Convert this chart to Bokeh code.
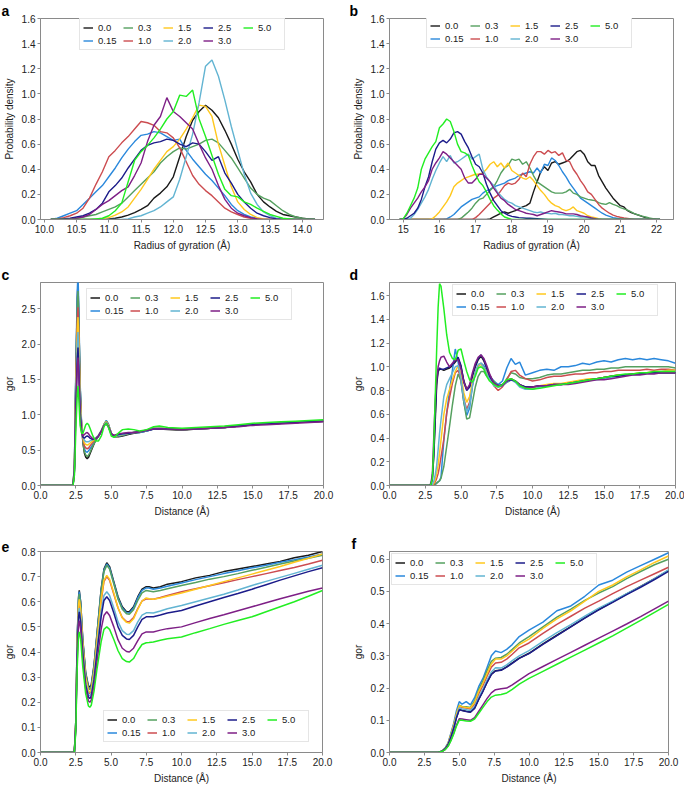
from bokeh.plotting import figure
from bokeh.layouts import column, row
from bokeh.models import (Legend, LegendItem, FixedTicker, NumeralTickFormatter,
                          Title, Range1d)
from bokeh.embed import file_html
from bokeh.resources import INLINE

SERIES = ["0.0", "0.15", "0.3", "1.0", "1.5", "2.0", "2.5", "3.0", "5.0"]
COLORS = ["#1a1a1a", "#2a88dc", "#55a05f", "#cc4c50", "#ffc81e",
          "#62b4d2", "#1c1c8a", "#7e1f86", "#22ee22"]

# ---------------- panel a : radius of gyration ----------------
A_X = [10.1, 10.2, 10.3, 10.4, 10.5, 10.6, 10.7, 10.8, 10.9, 11.0,
       11.1, 11.2, 11.3, 11.4, 11.5, 11.6, 11.7, 11.8, 11.9, 12.0,
       12.1, 12.2, 12.3, 12.4, 12.5, 12.6, 12.7, 12.8, 12.9, 13.0,
       13.1, 13.2, 13.3, 13.4, 13.5, 13.6, 13.7, 13.8, 13.9, 14.0,
       14.1, 14.2]
A_0_0 = [0, 0, 0, 0, 0, 0, 0, 0, 0, 0.005,
         0.01, 0.02, 0.035, 0.055, 0.08, 0.11, 0.17, 0.21, 0.26, 0.34,
         0.50, 0.66, 0.79, 0.86, 0.91, 0.87, 0.81, 0.71, 0.60, 0.48,
         0.38, 0.30, 0.20, 0.14, 0.10, 0.065, 0.04, 0.03, 0.02, 0.01,
         0.005, 0]
A_0_15 = [0, 0.01, 0.03, 0.05, 0.07, 0.12, 0.17, 0.22, 0.27, 0.34,
          0.41, 0.49, 0.56, 0.62, 0.67, 0.68, 0.70, 0.69, 0.66, 0.63,
          0.64, 0.55, 0.48, 0.42, 0.36, 0.31, 0.25, 0.19, 0.12, 0.07,
          0.04, 0.02, 0.01, 0, 0, 0, 0, 0, 0, 0,
          0, 0]
A_0_3 = [0, 0, 0, 0.005, 0.01, 0.02, 0.03, 0.04, 0.06, 0.08,
         0.10, 0.13, 0.18, 0.23, 0.28, 0.33, 0.38, 0.45, 0.50, 0.54,
         0.57, 0.56, 0.58, 0.60, 0.63, 0.64, 0.61, 0.55, 0.49, 0.41,
         0.33, 0.25, 0.20, 0.17, 0.15, 0.11, 0.07, 0.04, 0.02, 0.01,
         0, 0]
A_1_0 = [0, 0.005, 0.015, 0.03, 0.05, 0.09, 0.17, 0.28, 0.38, 0.50,
         0.55, 0.61, 0.66, 0.72, 0.78, 0.77, 0.75, 0.70, 0.69, 0.65,
         0.57, 0.46, 0.35, 0.28, 0.23, 0.19, 0.14, 0.09, 0.06, 0.04,
         0.02, 0.01, 0.005, 0, 0, 0, 0, 0, 0, 0,
         0, 0]
A_1_5 = [0, 0, 0, 0, 0, 0, 0, 0, 0.005, 0.015,
         0.035, 0.06, 0.10, 0.17, 0.24, 0.32, 0.40, 0.47, 0.54, 0.58,
         0.64, 0.72, 0.81, 0.91, 0.90, 0.82, 0.60, 0.43, 0.26, 0.14,
         0.08, 0.04, 0.015, 0.005, 0, 0, 0, 0, 0, 0,
         0, 0]
A_2_0 = [0, 0, 0, 0, 0, 0, 0, 0, 0, 0,
         0, 0, 0.005, 0.02, 0.03, 0.05, 0.07, 0.10, 0.14, 0.18,
         0.32, 0.50, 0.68, 0.93, 1.22, 1.27, 1.14, 0.95, 0.74, 0.55,
         0.36, 0.21, 0.12, 0.06, 0.03, 0.01, 0, 0, 0, 0,
         0, 0]
A_2_5 = [0, 0, 0.005, 0.01, 0.02, 0.03, 0.05, 0.08, 0.13, 0.22,
         0.27, 0.33, 0.41, 0.48, 0.55, 0.59, 0.61, 0.62, 0.64, 0.63,
         0.60, 0.58, 0.61, 0.60, 0.54, 0.47, 0.50, 0.37, 0.29, 0.20,
         0.14, 0.09, 0.05, 0.03, 0.015, 0.005, 0, 0, 0, 0,
         0, 0]
A_3_0 = [0, 0, 0, 0.005, 0.01, 0.02, 0.04, 0.08, 0.12, 0.15,
         0.19, 0.23, 0.26, 0.35, 0.45, 0.62, 0.75, 0.82, 0.97, 0.86,
         0.82, 0.77, 0.72, 0.60, 0.49, 0.40, 0.27, 0.16, 0.09, 0.05,
         0.03, 0.015, 0.005, 0, 0, 0, 0, 0, 0, 0,
         0, 0]
A_5_0 = [0, 0, 0, 0, 0, 0, 0, 0.005, 0.01, 0.03,
         0.07, 0.13, 0.30, 0.47, 0.54, 0.59, 0.65, 0.72, 0.80, 0.86,
         0.99, 0.98, 1.03, 0.80, 0.66, 0.51, 0.36, 0.24, 0.19, 0.18,
         0.14, 0.12, 0.09, 0.065, 0.04, 0.025, 0.01, 0.005, 0, 0,
         0, 0]

# ---------------- panel b : radius of gyration ----------------
B_X = [14.9,
       15.0, 15.1, 15.2, 15.3, 15.4, 15.5, 15.6, 15.7, 15.8, 15.9,
       16.0, 16.1, 16.2, 16.3, 16.4, 16.5, 16.6, 16.7, 16.8, 16.9,
       17.0, 17.1, 17.2, 17.3, 17.4, 17.5, 17.6, 17.7, 17.8, 17.9,
       18.0, 18.1, 18.2, 18.3, 18.4, 18.5, 18.6, 18.7, 18.8, 18.9,
       19.0, 19.1, 19.2, 19.3, 19.4, 19.5, 19.6, 19.7, 19.8, 19.9,
       20.0, 20.1, 20.2, 20.3, 20.4, 20.5, 20.6, 20.7, 20.8, 20.9,
       21.0, 21.1, 21.2, 21.3, 21.4, 21.5, 21.6, 21.7, 21.8, 21.9,
       22.0, 22.1]
B_0_0 = [0,
         0, 0, 0, 0, 0, 0, 0, 0, 0, 0,
         0, 0, 0, 0, 0, 0, 0, 0, 0, 0,
         0, 0, 0, 0, 0.005, 0.02, 0.035, 0.05, 0.06, 0.05,
         0.06, 0.07, 0.085, 0.10, 0.11, 0.13, 0.22, 0.30, 0.38, 0.42,
         0.39, 0.45, 0.46, 0.44, 0.45, 0.46, 0.48, 0.51, 0.54, 0.55,
         0.52, 0.46, 0.43, 0.43, 0.35, 0.30, 0.25, 0.21, 0.17, 0.14,
         0.11, 0.10, 0.07, 0.055, 0.045, 0.035, 0.025, 0.015, 0.009, 0.004,
         0, 0]
B_0_15 = [0,
          0, 0, 0, 0, 0, 0, 0, 0, 0, 0,
          0, 0, 0.005, 0.02, 0.04, 0.07, 0.10, 0.12, 0.14, 0.16,
          0.17, 0.18, 0.21, 0.23, 0.24, 0.26, 0.27, 0.28, 0.29, 0.31,
          0.32, 0.33, 0.35, 0.36, 0.37, 0.38, 0.37, 0.41, 0.37, 0.44,
          0.43, 0.49, 0.47, 0.43, 0.38, 0.34, 0.29, 0.25, 0.21, 0.17,
          0.15, 0.13, 0.11, 0.09, 0.07, 0.05, 0.035, 0.025, 0.015, 0.01,
          0.005, 0, 0, 0, 0, 0, 0, 0, 0, 0,
          0, 0]
B_0_3 = [0,
         0, 0, 0, 0, 0, 0, 0, 0, 0, 0,
         0, 0, 0, 0, 0, 0, 0.01, 0.035, 0.06, 0.09,
         0.13, 0.16, 0.17, 0.20, 0.23, 0.26, 0.31, 0.37, 0.41, 0.43,
         0.48, 0.47, 0.48, 0.44, 0.46, 0.41, 0.35, 0.30, 0.28, 0.26,
         0.24, 0.22, 0.21, 0.21, 0.21, 0.22, 0.24, 0.21, 0.20, 0.18,
         0.17, 0.16, 0.155, 0.15, 0.135, 0.125, 0.12, 0.135, 0.12, 0.11,
         0.095, 0.085, 0.075, 0.06, 0.045, 0.036, 0.027, 0.02, 0.012, 0.006,
         0.002, 0]
B_1_0 = [0,
         0, 0, 0, 0, 0, 0, 0, 0, 0, 0,
         0, 0, 0, 0, 0, 0, 0, 0, 0, 0,
         0.015, 0.04, 0.07, 0.10, 0.13, 0.17, 0.19, 0.23, 0.27, 0.29,
         0.28, 0.29, 0.32, 0.37, 0.34, 0.44, 0.50, 0.54, 0.54, 0.52,
         0.55, 0.53, 0.54, 0.51, 0.53, 0.47, 0.46, 0.40, 0.36, 0.31,
         0.27, 0.22, 0.20, 0.16, 0.12, 0.09, 0.07, 0.05, 0.035, 0.025,
         0.018, 0.012, 0.008, 0.004, 0, 0, 0, 0, 0, 0,
         0, 0]
B_1_5 = [0,
         0, 0, 0, 0, 0, 0, 0, 0, 0.005, 0.03,
         0.06, 0.10, 0.14, 0.19, 0.26, 0.29, 0.31, 0.33, 0.34, 0.35,
         0.36, 0.36, 0.37, 0.40, 0.44, 0.46, 0.42, 0.45, 0.41, 0.45,
         0.39, 0.37, 0.35, 0.33, 0.32, 0.34, 0.31, 0.27, 0.23, 0.20,
         0.16, 0.13, 0.11, 0.10, 0.08, 0.07, 0.08, 0.10, 0.07, 0.06,
         0.05, 0.03, 0.02, 0.015, 0.007, 0, 0, 0, 0, 0,
         0, 0, 0, 0, 0, 0, 0, 0, 0, 0,
         0, 0]
B_2_0 = [0,
         0, 0, 0.01, 0.04, 0.08, 0.13, 0.18, 0.24, 0.32, 0.39,
         0.45, 0.50, 0.46, 0.51, 0.45, 0.46, 0.48, 0.50, 0.52, 0.48,
         0.50, 0.52, 0.40, 0.34, 0.30, 0.27, 0.22, 0.19, 0.16, 0.14,
         0.13, 0.11, 0.10, 0.09, 0.08, 0.07, 0.06, 0.055, 0.06, 0.05,
         0.05, 0.045, 0.05, 0.04, 0.04, 0.035, 0.03, 0.03, 0.025, 0.02,
         0.02, 0.015, 0.01, 0.005, 0, 0, 0, 0, 0, 0,
         0, 0, 0, 0, 0, 0, 0, 0, 0, 0,
         0, 0]
B_2_5 = [0,
         0, 0.01, 0.03, 0.05, 0.09, 0.16, 0.26, 0.34, 0.46, 0.56,
         0.61, 0.63, 0.61, 0.64, 0.69, 0.70, 0.68, 0.62, 0.57, 0.50,
         0.44, 0.42, 0.37, 0.28, 0.21, 0.15, 0.11, 0.07, 0.05, 0.035,
         0.025, 0.02, 0.015, 0.013, 0.01, 0.01, 0.008, 0.006, 0.004, 0.002,
         0, 0, 0, 0, 0, 0, 0, 0, 0, 0,
         0, 0, 0, 0, 0, 0, 0, 0, 0, 0,
         0, 0, 0, 0, 0, 0, 0, 0, 0, 0,
         0, 0]
B_3_0 = [0,
         0.005, 0.04, 0.09, 0.13, 0.17, 0.22, 0.26, 0.31, 0.40, 0.45,
         0.49, 0.54, 0.52, 0.49, 0.46, 0.43, 0.40, 0.33, 0.29, 0.29,
         0.32, 0.36, 0.36, 0.33, 0.30, 0.25, 0.21, 0.17, 0.15, 0.12,
         0.10, 0.08, 0.07, 0.06, 0.05, 0.045, 0.04, 0.03, 0.04, 0.05,
         0.06, 0.07, 0.065, 0.06, 0.055, 0.045, 0.045, 0.045, 0.04, 0.03,
         0.025, 0.02, 0.012, 0.006, 0, 0, 0, 0, 0, 0,
         0, 0, 0, 0, 0, 0, 0, 0, 0, 0,
         0, 0]
B_5_0 = [0,
         0.005, 0.05, 0.11, 0.17, 0.25, 0.40, 0.48, 0.53, 0.58, 0.62,
         0.73, 0.76, 0.80, 0.78, 0.70, 0.60, 0.54, 0.53, 0.51, 0.43,
         0.36, 0.30, 0.27, 0.22, 0.16, 0.11, 0.075, 0.045, 0.02, 0.01,
         0, 0, 0, 0, 0, 0, 0, 0, 0, 0,
         0, 0, 0, 0, 0, 0, 0, 0, 0, 0,
         0, 0, 0, 0, 0, 0, 0, 0, 0, 0,
         0, 0, 0, 0, 0, 0, 0, 0, 0, 0,
         0, 0]

# ---------------- panel c : g(r) ----------------
C_X = [0, 2.3, 2.4, 2.5, 2.6, 2.65, 2.7, 2.8, 2.9, 3.0,
       3.1, 3.2, 3.3, 3.4, 3.5, 3.7, 3.9, 4.1, 4.3, 4.5,
       4.65, 4.8, 5.0, 5.2, 5.5, 5.8, 6.2, 6.6, 7.0, 7.5,
       8.0, 8.4, 9.0, 10, 11, 12, 13, 14, 15, 16,
       17, 18, 19, 20]
C_0_0 = [0, 0, 0.3, 1.6, 2.65, 2.85, 2.45, 1.4, 0.85, 0.6,
         0.46, 0.40, 0.38, 0.40, 0.45, 0.55, 0.64, 0.70, 0.76, 0.86,
         0.91, 0.86, 0.74, 0.69, 0.69, 0.70, 0.72, 0.74, 0.75, 0.77,
         0.80, 0.80, 0.79, 0.78, 0.80, 0.81, 0.82, 0.84, 0.86, 0.87,
         0.88, 0.89, 0.90, 0.91]
C_0_15 = [0, 0, 0.3, 1.7, 2.75, 3.0, 2.55, 1.45, 0.88, 0.64,
          0.52, 0.48, 0.47, 0.49, 0.52, 0.58, 0.64, 0.70, 0.77, 0.87,
          0.92, 0.87, 0.74, 0.69, 0.70, 0.71, 0.73, 0.75, 0.75, 0.77,
          0.80, 0.81, 0.80, 0.79, 0.80, 0.81, 0.82, 0.84, 0.86, 0.87,
          0.88, 0.89, 0.90, 0.91]
C_0_3 = [0, 0, 0.28, 1.55, 2.55, 2.75, 2.4, 1.4, 0.86, 0.62,
         0.48, 0.43, 0.41, 0.43, 0.47, 0.56, 0.64, 0.70, 0.77, 0.87,
         0.91, 0.86, 0.74, 0.69, 0.70, 0.71, 0.73, 0.75, 0.76, 0.78,
         0.81, 0.81, 0.80, 0.79, 0.80, 0.81, 0.82, 0.84, 0.86, 0.87,
         0.88, 0.89, 0.90, 0.91]
C_1_0 = [0, 0, 0.26, 1.45, 2.35, 2.52, 2.2, 1.3, 0.85, 0.66,
         0.56, 0.53, 0.52, 0.53, 0.56, 0.61, 0.66, 0.70, 0.77, 0.86,
         0.90, 0.85, 0.74, 0.70, 0.71, 0.72, 0.74, 0.75, 0.76, 0.78,
         0.81, 0.81, 0.80, 0.79, 0.80, 0.81, 0.82, 0.84, 0.86, 0.87,
         0.88, 0.89, 0.90, 0.91]
C_1_5 = [0, 0, 0.25, 1.35, 2.2, 2.38, 2.1, 1.25, 0.85, 0.68,
         0.60, 0.58, 0.57, 0.58, 0.60, 0.63, 0.67, 0.71, 0.78, 0.87,
         0.90, 0.85, 0.74, 0.70, 0.71, 0.72, 0.74, 0.75, 0.76, 0.78,
         0.81, 0.81, 0.80, 0.79, 0.80, 0.81, 0.82, 0.84, 0.86, 0.87,
         0.88, 0.89, 0.90, 0.91]
C_2_0 = [0, 0, 0.23, 1.25, 2.0, 2.17, 1.9, 1.15, 0.82, 0.69,
         0.64, 0.62, 0.62, 0.62, 0.63, 0.65, 0.67, 0.71, 0.78, 0.86,
         0.89, 0.84, 0.74, 0.70, 0.71, 0.72, 0.74, 0.75, 0.76, 0.78,
         0.81, 0.81, 0.80, 0.79, 0.80, 0.81, 0.82, 0.84, 0.86, 0.87,
         0.88, 0.89, 0.90, 0.91]
C_2_5 = [0, 0, 0.22, 1.15, 1.8, 1.95, 1.7, 1.05, 0.78, 0.68,
         0.67, 0.69, 0.70, 0.69, 0.67, 0.65, 0.66, 0.70, 0.77, 0.85,
         0.88, 0.83, 0.73, 0.70, 0.72, 0.73, 0.74, 0.75, 0.76, 0.78,
         0.80, 0.80, 0.80, 0.79, 0.80, 0.81, 0.82, 0.84, 0.86, 0.87,
         0.88, 0.89, 0.90, 0.91]
C_3_0 = [0, 0, 0.2, 1.05, 1.68, 1.81, 1.6, 1.0, 0.76, 0.70,
         0.72, 0.74, 0.75, 0.73, 0.70, 0.66, 0.66, 0.70, 0.77, 0.85,
         0.87, 0.83, 0.73, 0.71, 0.73, 0.74, 0.75, 0.75, 0.76, 0.78,
         0.80, 0.80, 0.80, 0.79, 0.80, 0.81, 0.82, 0.83, 0.85, 0.86,
         0.87, 0.88, 0.89, 0.90]
C_5_0 = [0, 0, 0.15, 0.8, 1.3, 1.41, 1.25, 0.85, 0.74, 0.74,
         0.80, 0.86, 0.88, 0.86, 0.81, 0.70, 0.63, 0.63, 0.70, 0.84,
         0.88, 0.82, 0.70, 0.68, 0.74, 0.79, 0.80, 0.79, 0.77, 0.79,
         0.83, 0.84, 0.82, 0.81, 0.82, 0.83, 0.84, 0.86, 0.88, 0.89,
         0.90, 0.91, 0.92, 0.93]

# ---------------- panel d : g(r) ----------------
D_X = [0, 2.8, 2.9, 3.0, 3.1, 3.2, 3.3, 3.4, 3.5, 3.6,
       3.8, 4.0, 4.2, 4.4, 4.6, 4.8, 5.0, 5.2, 5.4, 5.6,
       5.8, 6.0, 6.2, 6.4, 6.6, 6.8, 7.0, 7.3, 7.6, 7.9,
       8.2, 8.5, 8.8, 9.1, 9.5, 10.0, 10.5, 11.0, 11.5, 12.0,
       12.5, 13.0, 13.5, 14.0, 14.5, 15.0, 15.5, 16.0, 16.5, 17.0,
       17.5, 18.0, 18.5, 19.0, 19.5, 20.0]
D_0_0 = [0, 0, 0.01, 0.06, 0.25, 0.55, 0.85, 0.96, 0.98, 0.98,
         0.97, 0.98, 0.99, 1.01, 1.04, 1.07, 1.00, 0.88, 0.81, 0.83,
         0.92, 1.00, 1.06, 1.09, 1.05, 0.99, 0.93, 0.87, 0.84, 0.84,
         0.87, 0.89, 0.88, 0.85, 0.83, 0.83, 0.84, 0.84, 0.85, 0.85,
         0.86, 0.87, 0.88, 0.89, 0.90, 0.91, 0.92, 0.93, 0.93, 0.94,
         0.94, 0.95, 0.95, 0.95, 0.95, 0.95]
D_0_15 = [0, 0, 0, 0, 0.005, 0.01, 0.02, 0.03, 0.04, 0.07,
          0.38, 0.61, 0.80, 0.97, 1.15, 1.04, 0.88, 0.70, 0.59, 0.65,
          0.84, 0.95, 1.00, 1.03, 1.01, 0.96, 0.92, 0.88, 0.85, 0.88,
          0.99, 1.07, 1.02, 1.04, 0.93, 0.95, 0.97, 0.98, 0.97, 1.00,
          1.00, 1.01, 1.03, 1.02, 1.04, 1.05, 1.04, 1.06, 1.07, 1.06,
          1.07, 1.06, 1.07, 1.06, 1.05, 1.03]
D_0_3 = [0, 0, 0, 0, 0, 0.01, 0.02, 0.03, 0.04, 0.06,
         0.16, 0.33, 0.50, 0.68, 0.84, 0.94, 0.88, 0.70, 0.56, 0.57,
         0.70, 0.83, 0.92, 0.96, 0.96, 0.92, 0.90, 0.88, 0.83, 0.84,
         0.90, 0.95, 0.94, 0.91, 0.90, 0.90, 0.91, 0.93, 0.94, 0.94,
         0.95, 0.96, 0.97, 0.97, 0.98, 0.98, 0.99, 0.99, 1.00, 1.00,
         1.00, 1.00, 1.00, 1.00, 1.00, 0.99]
D_1_0 = [0, 0, 0, 0, 0.01, 0.03, 0.06, 0.10, 0.16, 0.24,
         0.39, 0.61, 0.74, 0.86, 0.95, 0.97, 0.90, 0.73, 0.64, 0.70,
         0.85, 0.96, 1.01, 1.03, 0.99, 0.95, 0.91, 0.84, 0.80, 0.83,
         0.89, 0.96, 0.97, 0.93, 0.90, 0.88, 0.89, 0.91, 0.92, 0.92,
         0.93, 0.94, 0.94, 0.95, 0.95, 0.96, 0.96, 0.97, 0.97, 0.97,
         0.97, 0.98, 0.97, 0.98, 0.98, 0.97]
D_1_5 = [0, 0, 0, 0.005, 0.02, 0.05, 0.10, 0.17, 0.27, 0.38,
         0.60, 0.73, 0.81, 0.89, 0.96, 1.01, 0.93, 0.78, 0.70, 0.75,
         0.87, 0.96, 1.01, 1.02, 0.99, 0.95, 0.90, 0.85, 0.83, 0.85,
         0.88, 0.90, 0.88, 0.84, 0.82, 0.82, 0.84, 0.85, 0.86, 0.86,
         0.87, 0.88, 0.89, 0.90, 0.90, 0.91, 0.92, 0.93, 0.93, 0.94,
         0.95, 0.95, 0.96, 0.96, 0.97, 0.97]
D_2_0 = [0, 0, 0, 0.01, 0.04, 0.09, 0.17, 0.30, 0.44, 0.55,
         0.75, 0.85, 0.90, 0.95, 1.00, 1.01, 0.90, 0.72, 0.62, 0.68,
         0.84, 0.96, 1.02, 1.03, 0.99, 0.94, 0.90, 0.84, 0.83, 0.84,
         0.87, 0.89, 0.87, 0.83, 0.81, 0.81, 0.83, 0.84, 0.85, 0.85,
         0.86, 0.87, 0.88, 0.89, 0.89, 0.90, 0.91, 0.92, 0.93, 0.93,
         0.94, 0.95, 0.95, 0.96, 0.96, 0.96]
D_2_5 = [0, 0, 0.01, 0.07, 0.28, 0.60, 0.88, 0.97, 0.99, 0.98,
         0.98, 0.99, 1.00, 1.02, 1.05, 1.08, 1.01, 0.87, 0.80, 0.83,
         0.93, 1.01, 1.07, 1.10, 1.06, 0.99, 0.92, 0.86, 0.84, 0.85,
         0.88, 0.89, 0.88, 0.85, 0.83, 0.83, 0.84, 0.84, 0.85, 0.85,
         0.86, 0.87, 0.88, 0.89, 0.90, 0.91, 0.92, 0.92, 0.93, 0.94,
         0.94, 0.95, 0.95, 0.95, 0.95, 0.95]
D_3_0 = [0, 0, 0.02, 0.10, 0.42, 0.72, 0.90, 1.00, 1.05, 1.08,
         1.09, 1.04, 1.00, 1.03, 1.06, 1.06, 0.98, 0.87, 0.81, 0.85,
         0.95, 1.03, 1.08, 1.10, 1.07, 1.01, 0.94, 0.86, 0.84, 0.84,
         0.88, 0.90, 0.88, 0.85, 0.82, 0.83, 0.84, 0.84, 0.85, 0.85,
         0.85, 0.86, 0.87, 0.88, 0.89, 0.89, 0.90, 0.91, 0.92, 0.93,
         0.93, 0.94, 0.94, 0.95, 0.95, 0.95]
D_5_0 = [0, 0, 0.01, 0.06, 0.35, 0.75, 1.15, 1.50, 1.70, 1.68,
         1.49, 1.27, 1.12, 1.07, 1.06, 1.14, 1.15, 1.05, 0.96, 0.89,
         0.87, 0.92, 0.99, 1.00, 0.98, 0.92, 0.88, 0.85, 0.83, 0.85,
         0.89, 0.90, 0.88, 0.84, 0.82, 0.81, 0.82, 0.83, 0.84, 0.85,
         0.86, 0.87, 0.88, 0.89, 0.90, 0.91, 0.92, 0.93, 0.94, 0.94,
         0.95, 0.95, 0.96, 0.96, 0.96, 0.96]

# ---------------- panel e : g(r) ----------------
E_X = [0, 2.4, 2.5, 2.6, 2.7, 2.75, 2.85, 3.0, 3.2, 3.4,
       3.5, 3.6, 3.8, 4.0, 4.3, 4.5, 4.7, 4.9, 5.2, 5.5,
       5.8, 6.1, 6.3, 6.6, 6.9, 7.2, 7.5, 7.7, 8.0, 8.5,
       9, 10, 11, 12, 13, 14, 15, 16, 17, 18,
       19, 20]
E_0_0 = [0, 0, 0.12, 0.45, 0.62, 0.645, 0.60, 0.45, 0.32, 0.265,
         0.26, 0.27, 0.35, 0.47, 0.65, 0.73, 0.755, 0.74, 0.68, 0.62,
         0.58, 0.56, 0.56, 0.58, 0.62, 0.65, 0.66, 0.66, 0.655, 0.66,
         0.67, 0.68, 0.695, 0.705, 0.72, 0.73, 0.74, 0.75, 0.76, 0.775,
         0.785, 0.80]
E_0_15 = [0, 0, 0.12, 0.44, 0.615, 0.64, 0.595, 0.445, 0.315, 0.258,
          0.252, 0.262, 0.345, 0.465, 0.645, 0.725, 0.75, 0.735, 0.675, 0.615,
          0.575, 0.556, 0.555, 0.575, 0.615, 0.645, 0.655, 0.655, 0.65, 0.655,
          0.662, 0.675, 0.688, 0.70, 0.712, 0.723, 0.735, 0.745, 0.757, 0.767,
          0.778, 0.79]
E_0_3 = [0, 0, 0.12, 0.44, 0.61, 0.63, 0.585, 0.44, 0.31, 0.255,
         0.25, 0.26, 0.34, 0.46, 0.64, 0.72, 0.745, 0.73, 0.67, 0.61,
         0.57, 0.552, 0.55, 0.568, 0.605, 0.635, 0.645, 0.643, 0.64, 0.645,
         0.652, 0.665, 0.677, 0.69, 0.70, 0.712, 0.725, 0.737, 0.75, 0.762,
         0.773, 0.785]
E_1_0 = [0, 0, 0.11, 0.41, 0.58, 0.60, 0.56, 0.425, 0.295, 0.24,
         0.235, 0.245, 0.32, 0.435, 0.60, 0.68, 0.70, 0.685, 0.63, 0.575,
         0.537, 0.521, 0.52, 0.537, 0.573, 0.603, 0.612, 0.611, 0.61, 0.617,
         0.625, 0.64, 0.652, 0.664, 0.676, 0.688, 0.70, 0.712, 0.724, 0.736,
         0.75, 0.765]
E_1_5 = [0, 0, 0.11, 0.42, 0.59, 0.61, 0.57, 0.43, 0.30, 0.245,
         0.24, 0.25, 0.325, 0.44, 0.61, 0.685, 0.705, 0.69, 0.635, 0.575,
         0.535, 0.518, 0.515, 0.532, 0.57, 0.603, 0.615, 0.612, 0.61, 0.615,
         0.622, 0.635, 0.65, 0.665, 0.68, 0.695, 0.71, 0.725, 0.74, 0.757,
         0.773, 0.79]
E_2_0 = [0, 0, 0.10, 0.40, 0.555, 0.575, 0.535, 0.405, 0.28, 0.23,
         0.225, 0.234, 0.305, 0.41, 0.56, 0.625, 0.64, 0.625, 0.575, 0.52,
         0.485, 0.471, 0.47, 0.485, 0.52, 0.547, 0.556, 0.556, 0.555, 0.563,
         0.572, 0.585, 0.60, 0.615, 0.63, 0.647, 0.665, 0.681, 0.697, 0.713,
         0.729, 0.745]
E_2_5 = [0, 0, 0.10, 0.39, 0.54, 0.56, 0.52, 0.395, 0.27, 0.22,
         0.215, 0.224, 0.29, 0.395, 0.54, 0.605, 0.62, 0.605, 0.555, 0.50,
         0.466, 0.452, 0.45, 0.466, 0.50, 0.53, 0.54, 0.54, 0.54, 0.547,
         0.555, 0.565, 0.583, 0.60, 0.617, 0.633, 0.65, 0.668, 0.686, 0.703,
         0.72, 0.735]
E_3_0 = [0, 0, 0.09, 0.36, 0.51, 0.525, 0.49, 0.37, 0.255, 0.205,
         0.20, 0.208, 0.27, 0.36, 0.49, 0.545, 0.56, 0.545, 0.50, 0.448,
         0.415, 0.402, 0.40, 0.415, 0.445, 0.472, 0.48, 0.48, 0.48, 0.487,
         0.493, 0.50, 0.517, 0.533, 0.548, 0.564, 0.58, 0.596, 0.612, 0.627,
         0.642, 0.655]
E_5_0 = [0, 0, 0.08, 0.33, 0.465, 0.48, 0.45, 0.34, 0.235, 0.185,
         0.18, 0.188, 0.245, 0.33, 0.44, 0.49, 0.50, 0.49, 0.45, 0.405,
         0.374, 0.362, 0.36, 0.374, 0.405, 0.43, 0.437, 0.438, 0.44, 0.447,
         0.453, 0.46, 0.477, 0.493, 0.51, 0.525, 0.54, 0.56, 0.58, 0.60,
         0.622, 0.645]

# ---------------- panel f : g(r) ----------------
F_X = [0, 3.5, 3.8, 4.0, 4.2, 4.4, 4.6, 4.8, 5.0, 5.2,
       5.5, 5.8, 6.1, 6.4, 6.7, 7.0, 7.3, 7.6, 8.0, 8.4,
       8.8, 9.3, 10, 11, 12, 13, 14, 15, 16, 17,
       18, 19, 20]
F_0_0 = [0, 0, 0.005, 0.012, 0.025, 0.049, 0.076, 0.109, 0.134, 0.131,
         0.128, 0.126, 0.138, 0.166, 0.191, 0.219, 0.243, 0.254, 0.256, 0.266,
         0.278, 0.293, 0.308, 0.337, 0.364, 0.391, 0.418, 0.444, 0.468, 0.492,
         0.516, 0.540, 0.565]
F_0_15 = [0, 0, 0.005, 0.015, 0.03, 0.06, 0.09, 0.13, 0.158, 0.15,
          0.158, 0.148, 0.17, 0.205, 0.23, 0.265, 0.30, 0.315, 0.31, 0.32,
          0.335, 0.36, 0.38, 0.405, 0.44, 0.455, 0.485, 0.52, 0.535, 0.56,
          0.58, 0.60, 0.62]
F_0_3 = [0, 0, 0.005, 0.013, 0.028, 0.055, 0.085, 0.12, 0.147, 0.143,
         0.142, 0.14, 0.16, 0.195, 0.222, 0.255, 0.283, 0.293, 0.295, 0.305,
         0.32, 0.34, 0.36, 0.39, 0.42, 0.445, 0.472, 0.495, 0.515, 0.54,
         0.562, 0.583, 0.60]
F_1_0 = [0, 0, 0.005, 0.013, 0.027, 0.053, 0.082, 0.117, 0.143, 0.14,
         0.138, 0.135, 0.15, 0.183, 0.208, 0.238, 0.265, 0.278, 0.28, 0.29,
         0.305, 0.325, 0.34, 0.37, 0.398, 0.423, 0.448, 0.47, 0.493, 0.515,
         0.535, 0.555, 0.575]
F_1_5 = [0, 0, 0.005, 0.013, 0.028, 0.055, 0.085, 0.12, 0.145, 0.142,
         0.14, 0.138, 0.155, 0.19, 0.215, 0.245, 0.275, 0.29, 0.29, 0.30,
         0.315, 0.335, 0.352, 0.385, 0.415, 0.44, 0.47, 0.50, 0.52, 0.545,
         0.567, 0.59, 0.61]
F_2_0 = [0, 0, 0.005, 0.012, 0.026, 0.05, 0.078, 0.112, 0.138, 0.135,
         0.133, 0.13, 0.143, 0.172, 0.197, 0.225, 0.25, 0.263, 0.262, 0.272,
         0.285, 0.30, 0.316, 0.345, 0.372, 0.397, 0.423, 0.448, 0.47, 0.493,
         0.515, 0.54, 0.567]
F_2_5 = [0, 0, 0.005, 0.012, 0.025, 0.048, 0.075, 0.108, 0.133, 0.13,
         0.127, 0.125, 0.137, 0.165, 0.19, 0.218, 0.242, 0.253, 0.255, 0.265,
         0.277, 0.292, 0.307, 0.336, 0.363, 0.39, 0.417, 0.443, 0.466, 0.49,
         0.513, 0.537, 0.562]
F_3_0 = [0, 0, 0.004, 0.01, 0.02, 0.038, 0.06, 0.085, 0.105, 0.104,
         0.102, 0.10, 0.108, 0.128, 0.148, 0.168, 0.185, 0.195, 0.198, 0.20,
         0.21, 0.225, 0.245, 0.267, 0.289, 0.311, 0.333, 0.355, 0.377, 0.399,
         0.422, 0.446, 0.47]
F_5_0 = [0, 0, 0.004, 0.009, 0.019, 0.036, 0.057, 0.082, 0.10, 0.10,
         0.098, 0.097, 0.104, 0.122, 0.14, 0.158, 0.172, 0.178, 0.18, 0.185,
         0.196, 0.212, 0.23, 0.252, 0.274, 0.296, 0.318, 0.34, 0.362, 0.386,
         0.41, 0.435, 0.46]

# tick positions
TICKS_A_X = [10.0, 10.5, 11.0, 11.5, 12.0, 12.5, 13.0, 13.5, 14.0]
TICKS_B_X = [15, 16, 17, 18, 19, 20, 21, 22]
TICKS_AB_Y = [0.0, 0.2, 0.4, 0.6, 0.8, 1.0, 1.2, 1.4, 1.6]
TICKS_DIST_X = [0.0, 2.5, 5.0, 7.5, 10.0, 12.5, 15.0, 17.5, 20.0]
TICKS_C_Y = [0.0, 0.5, 1.0, 1.5, 2.0, 2.5]
TICKS_D_Y = [0.0, 0.2, 0.4, 0.6, 0.8, 1.0, 1.2, 1.4, 1.6]
TICKS_E_Y = [0.0, 0.1, 0.2, 0.3, 0.4, 0.5, 0.6, 0.7, 0.8]
TICKS_F_Y = [0.0, 0.1, 0.2, 0.3, 0.4, 0.5, 0.6]

FONT = "Liberation Sans"
GREY = "#8a8a8a"
TXT = "#222222"
FS_TICK = "10px"
FS_LABEL = "10px"
FS_LEG = "9.5px"


def make_panel(w, h, xr, yr, xt, yt, xfmt, yfmt, bl, br, bt, bb, xlabel, ylabel):
    p = figure(width=w, height=h, x_range=Range1d(*xr), y_range=Range1d(*yr),
               output_backend="svg", toolbar_location=None,
               min_border_left=bl, min_border_right=br,
               min_border_top=bt, min_border_bottom=bb)
    p.grid.visible = False
    p.outline_line_color = GREY
    p.outline_line_width = 1
    p.background_fill_color = "white"
    p.border_fill_color = "white"
    p.xaxis.ticker = FixedTicker(ticks=xt)
    p.yaxis.ticker = FixedTicker(ticks=yt)
    p.xaxis.formatter = NumeralTickFormatter(format=xfmt)
    p.yaxis.formatter = NumeralTickFormatter(format=yfmt)
    for ax in p.axis:
        ax.axis_line_color = GREY
        ax.major_tick_line_color = GREY
        ax.major_tick_in = 0
        ax.major_tick_out = 3
        ax.minor_tick_line_color = None
        ax.major_label_text_font = FONT
        ax.major_label_text_font_size = FS_TICK
        ax.major_label_text_color = TXT
        ax.major_label_standoff = 2
        ax.axis_label_text_font = FONT
        ax.axis_label_text_font_size = FS_LABEL
        ax.axis_label_text_font_style = "normal"
        ax.axis_label_text_color = TXT
        ax.axis_label_standoff = 4
    p.xaxis.axis_label = xlabel
    p.yaxis.axis_label = ylabel
    return p


def add_series(p, xs, ys_list, lw, loc):
    items = []
    for lab, col, ys in zip(SERIES, COLORS, ys_list):
        assert len(xs) == len(ys), (lab, len(xs), len(ys))
        r = p.line(xs, ys, line_color=col, line_width=lw)
        items.append(LegendItem(label=lab, renderers=[r]))
    leg = Legend(items=items, location=loc, orientation="vertical", nrows=2,
                 label_text_font=FONT, label_text_font_size=FS_LEG,
                 label_text_color=TXT, glyph_width=10, glyph_height=11,
                 label_width=23, label_height=11, label_standoff=5,
                 spacing=2, padding=3, border_line_color="#cccccc",
                 border_line_width=1, background_fill_color="white",
                 background_fill_alpha=1.0)
    p.add_layout(leg)


def add_letter(p, letter, offset):
    p.add_layout(Title(text=letter, align="left", offset=offset, standoff=0,
                       vertical_align="bottom", text_font=FONT,
                       text_font_style="bold", text_font_size="14px",
                       text_line_height=0.85, text_color="black"), "above")


RG = "Radius of gyration (\u00c5)"
DIST = "Distance (\u00c5)"

pa = make_panel(340, 255, (9.94, 14.33), (0, 1.6), TICKS_A_X, TICKS_AB_Y, "0.0", "0.0",
                40, 17, 14, 36, RG, "Probability density")
add_series(pa, A_X, [A_0_0, A_0_15, A_0_3, A_1_0, A_1_5, A_2_0, A_2_5, A_3_0, A_5_0], 1.4, (39, 169))
add_letter(pa, "a", -39)

pb = make_panel(344, 255, (14.62, 22.47), (0, 1.6), TICKS_B_X, TICKS_AB_Y, "0", "0.0",
                49, 11, 14, 36, RG, "Probability density")
add_series(pb, B_X, [B_0_0, B_0_15, B_0_3, B_1_0, B_1_5, B_2_0, B_2_5, B_3_0, B_5_0], 1.4, (37, 171))
add_letter(pb, "b", -40)

pc = make_panel(340, 264, (0, 20), (0, 2.87), TICKS_DIST_X, TICKS_C_Y, "0.0", "0.0",
                40, 17, 27, 33, DIST, "gor")
add_series(pc, C_X, [C_0_0, C_0_15, C_0_3, C_1_0, C_1_5, C_2_0, C_2_5, C_3_0, C_5_0], 1.5, (46, 165))
add_letter(pc, "c", -39)

pd = make_panel(344, 264, (0, 20), (0, 1.71), TICKS_DIST_X, TICKS_D_Y, "0.0", "0.0",
                49, 9, 24, 33, DIST, "gor")
add_series(pd, D_X, [D_0_0, D_0_15, D_0_3, D_1_0, D_1_5, D_2_0, D_2_5, D_3_0, D_5_0], 1.5, (63, 169))
add_letter(pd, "d", -40)

pe = make_panel(340, 267, (0, 20), (0, 0.8), TICKS_DIST_X, TICKS_E_Y, "0.0", "0.0",
                40, 18, 30, 34, DIST, "gor")
add_series(pe, E_X, [E_0_0, E_0_15, E_0_3, E_1_0, E_1_5, E_2_0, E_2_5, E_3_0, E_5_0], 1.5, (63, 10))
add_letter(pe, "e", -39)

pf = make_panel(344, 267, (0, 20), (0, 0.624), TICKS_DIST_X, TICKS_F_Y, "0.0", "0.0",
                49, 16, 32, 34, DIST, "gor")
add_series(pf, F_X, [F_0_0, F_0_15, F_0_3, F_1_0, F_1_5, F_2_0, F_2_5, F_3_0, F_5_0], 1.5, (2, 167))
add_letter(pf, "f", -38)

layout = column(row(pa, pb), row(pc, pd), row(pe, pf))
open("out.html", "w").write(file_html(layout, INLINE))
